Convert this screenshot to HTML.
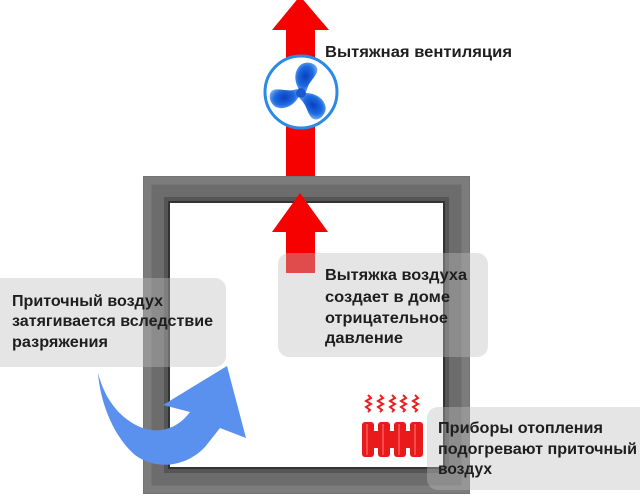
<!DOCTYPE html>
<html><head><meta charset="utf-8"><style>
html,body{margin:0;padding:0;background:#fff;width:640px;height:499px;overflow:hidden}
svg{display:block}
text{font-family:"Liberation Sans","DejaVu Sans",sans-serif;font-size:16px;font-weight:bold;fill:#1e1e1e}
</style></head><body>
<svg width="640" height="499" viewBox="0 0 640 499" xmlns="http://www.w3.org/2000/svg">
<defs>
<radialGradient id="bl" cx="50%" cy="50%" r="60%">
<stop offset="0" stop-color="#0a3fc0"/><stop offset="0.6" stop-color="#1d6ae0"/><stop offset="1" stop-color="#7ab0f5"/>
</radialGradient>
</defs>
<rect width="640" height="499" fill="#fff"/>

<!-- upper red arrow -->
<polygon points="300,-4 329,30 315,30 315,180 286,180 286,30 272,30" fill="#f70000"/>

<!-- wall -->
<rect x="155.5" y="188.5" width="302" height="293" fill="none" stroke="#6c6c6c" stroke-width="25"/>
<rect x="147.5" y="180.5" width="318" height="309" fill="none" stroke="#7c7c7c" stroke-width="8"/>
<rect x="166" y="199" width="281" height="272" fill="none" stroke="#555" stroke-width="4"/>
<rect x="169" y="202" width="275" height="266" fill="none" stroke="#333" stroke-width="2"/>

<!-- lower red arrow -->
<polygon points="300,193 328,232 315,232 315,273 286,273 286,232 272,232" fill="#f70000"/>

<!-- fan -->
<circle cx="301" cy="92" r="36" fill="#fff" stroke="#2a8ae6" stroke-width="3"/>
<g transform="translate(301,93)">
<g transform="rotate(15)"><path d="M-3,-3 C-10,-10 -13,-20 -7,-28 C-1,-34 11,-32 10,-24 C9,-17 4,-12 5,-3 Z" fill="url(#bl)"/></g>
<g transform="rotate(135)"><path d="M-3,-3 C-10,-10 -13,-20 -7,-28 C-1,-34 11,-32 10,-24 C9,-17 4,-12 5,-3 Z" fill="url(#bl)"/></g>
<g transform="rotate(255)"><path d="M-3,-3 C-10,-10 -13,-20 -7,-28 C-1,-34 11,-32 10,-24 C9,-17 4,-12 5,-3 Z" fill="url(#bl)"/></g>
<circle r="5" fill="#1a58d0"/>
</g>

<!-- blue curved arrow -->
<path d="M98,373 C100,400 112,435 135,455 C155,470 185,468 205,447 L220,428 L246,438 L227,366 L163,405 L190,412 C178,428 160,435 140,427 C120,418 105,400 98,373 Z" fill="#5a90ee"/>

<!-- radiator waves -->
<g fill="none" stroke="#e82020" stroke-width="2">
<polyline points="368,395 371,398 366,401 371,404 366,407 370,410 368,412"/>
<polyline points="380,395 383,398 378,401 383,404 378,407 382,410 380,412"/>
<polyline points="392,395 395,398 390,401 395,404 390,407 394,410 392,412"/>
<polyline points="403,395 406,398 401,401 406,404 401,407 405,410 403,412"/>
<polyline points="415,395 418,398 413,401 418,404 413,407 417,410 415,412"/>
</g>
<!-- radiator body -->
<g fill="#e81a1a">
<rect x="362" y="422" width="12" height="35" rx="3"/>
<rect x="378" y="422" width="12" height="35" rx="3"/>
<rect x="394" y="422" width="12" height="35" rx="3"/>
<rect x="410" y="422" width="13" height="35" rx="3"/>
<rect x="362" y="431" width="61" height="17"/>
</g>
<g fill="#ff6a6a" opacity="0.6">
<rect x="366" y="424" width="2" height="31"/><rect x="382" y="424" width="2" height="31"/><rect x="398" y="424" width="2" height="31"/><rect x="414" y="424" width="2" height="31"/>
</g>

<!-- translucent boxes -->
<rect x="-12" y="278" width="238" height="89" rx="11" fill="rgb(190,190,190)" fill-opacity="0.4"/>
<rect x="278" y="253" width="210" height="104" rx="11" fill="rgb(190,190,190)" fill-opacity="0.4"/>
<rect x="427" y="407" width="225" height="83" rx="11" fill="rgb(190,190,190)" fill-opacity="0.4"/>

<!-- texts -->
<text x="325" y="57" textLength="187" lengthAdjust="spacingAndGlyphs">Вытяжная вентиляция</text>

<text x="12" y="306" textLength="151" lengthAdjust="spacingAndGlyphs">Приточный воздух</text>
<text x="12" y="326" textLength="201" lengthAdjust="spacingAndGlyphs">затягивается вследствие</text>
<text x="12" y="347" textLength="96" lengthAdjust="spacingAndGlyphs">разряжения</text>

<text x="325" y="280" textLength="142" lengthAdjust="spacingAndGlyphs">Вытяжка воздуха</text>
<text x="325" y="302" textLength="125" lengthAdjust="spacingAndGlyphs">создает в доме</text>
<text x="325" y="323" textLength="123" lengthAdjust="spacingAndGlyphs">отрицательное</text>
<text x="325" y="343" textLength="78" lengthAdjust="spacingAndGlyphs">давление</text>

<text x="438" y="433" textLength="165" lengthAdjust="spacingAndGlyphs">Приборы отопления</text>
<text x="438" y="454" textLength="199" lengthAdjust="spacingAndGlyphs">подогревают приточный</text>
<text x="438" y="474" textLength="54" lengthAdjust="spacingAndGlyphs">воздух</text>
</svg>
</body></html>
